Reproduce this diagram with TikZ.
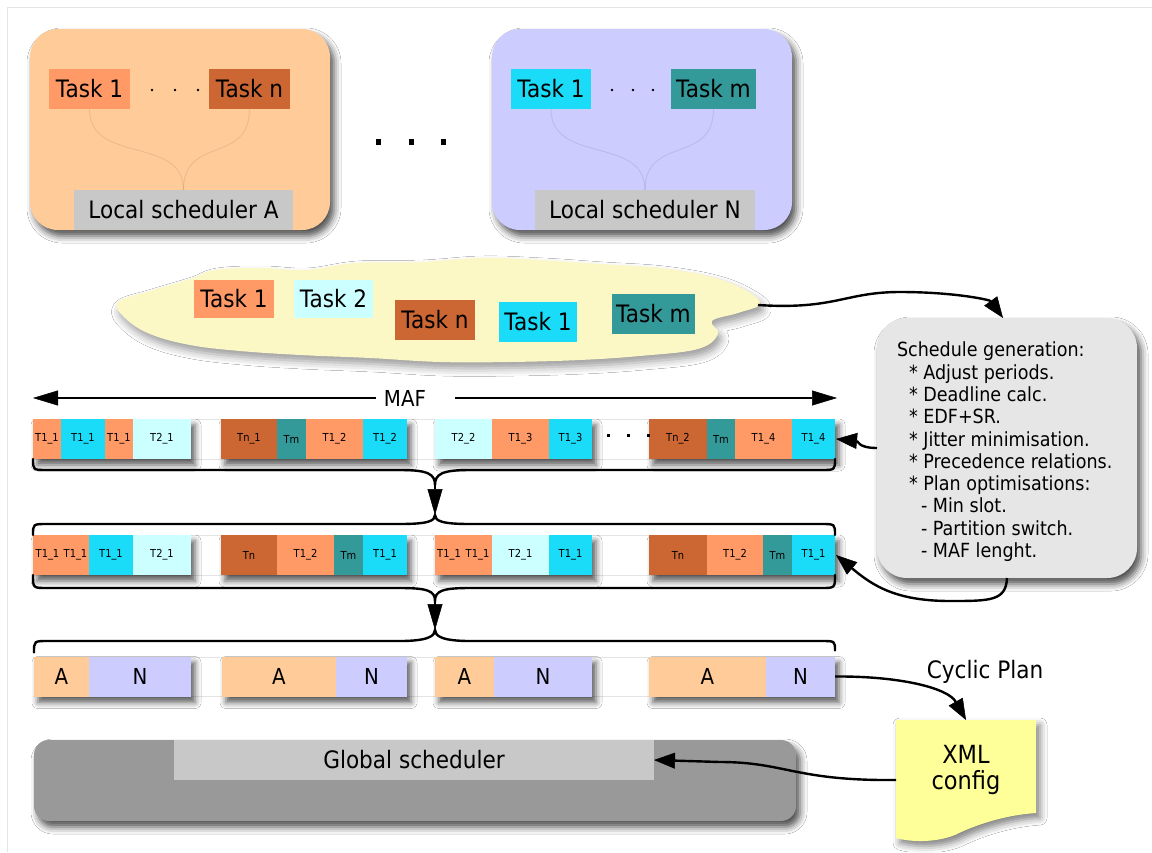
\documentclass[tikz,border=0pt]{standalone}
\usepackage{fontspec}
\setmainfont{DejaVu Sans}[FakeStretch=0.9]
\usetikzlibrary{arrows.meta,shadows.blur,calc}

\definecolor{peach}{HTML}{FFCC99}
\definecolor{salmon}{HTML}{FF9966}
\definecolor{rust}{HTML}{CC6633}
\definecolor{aqua}{HTML}{1ADCF8}
\definecolor{tealx}{HTML}{339999}
\definecolor{icecyan}{HTML}{CCFFFF}
\definecolor{lav}{HTML}{CCCCFF}
\definecolor{cream}{HTML}{FCF8C6}
\definecolor{panelgray}{HTML}{E6E6E6}
\definecolor{labgray}{HTML}{C8C8C8}
\definecolor{slate}{HTML}{999999}
\definecolor{note}{HTML}{FFFF99}
\definecolor{framegray}{HTML}{E4E4E4}

% one coloured slot of a schedule row: name, x1, x2, y centre, options, label
\newcommand\seg[6]{%
  \pgfmathsetmacro\segw{#3-#2}%
  \pgfmathsetmacro\segx{(#2+#3)/2}%
  \node[#5, minimum width=\segw pt] (#1) at (\segx,#4) {#6};}
% white backing block (with shadow) for a group of slots
\newcommand\grp[4]{%
  \pgfmathsetmacro\segw{#3-#2}%
  \pgfmathsetmacro\segx{(#2+#3)/2}%
  \node[grpblock, minimum width=\segw pt] (#1) at (\segx,#4) {};}

\begin{document}
\begin{tikzpicture}[x=1pt,y=-1pt,
  box/.style={rectangle, inner sep=0pt, outer sep=0pt, text=black},
  softshadow/.style={blur shadow={shadow xshift=4pt, shadow yshift=-6pt, shadow blur radius=7pt, shadow opacity=70}},
  panel/.style={box, rounded corners=28pt, softshadow},
  taskbox/.style={box, minimum height=40pt, font=\fontsize{24}{28}\selectfont},
  slot/.style={box, minimum height=40pt, font=\fontsize{11}{13}\selectfont},
  abslot/.style={box, minimum height=40pt, font=\fontsize{22}{26}\selectfont},
  grpblock/.style={box, minimum height=40pt, fill=white,
    blur shadow={shadow xshift=4pt, shadow yshift=-6pt, shadow blur radius=6pt, shadow opacity=65}},
  faint/.style={draw=black, opacity=0.08, line width=1pt},
  brace/.style={line width=2.4pt, line cap=round},
  conn/.style={line width=2.4pt, -{Triangle[length=21pt,width=16pt,fill=black,line width=0.5pt]}},
  darrow/.style={line width=2.4pt, -{Triangle[length=26pt,width=15pt,fill=black,line width=0.5pt]}},
  mafarrow/.style={line width=2.6pt, -{Triangle[length=25pt,width=15pt,fill=black,line width=0.5pt]}},
  bigtext/.style={font=\fontsize{24}{28}\selectfont}
]
\useasboundingbox (0,0) rectangle (1152,852);
\fill[white] (0,0) rectangle (1152,852);
\draw[framegray, line width=1pt] (7,852) -- (7,7) -- (1152,7);

% ---- local scheduler A ----
\node[panel, fill=peach, minimum width=300pt, minimum height=201pt] (boxA) at (180,129.5) {};
\node[taskbox, fill=salmon, minimum width=81pt] (a1) at (89.5,89) {Task 1};
\node[taskbox, fill=rust, minimum width=81pt] (an) at (249.5,89) {Task n};
\node[taskbox, fill=labgray, minimum width=219pt] (schA) at (183.5,210) {Local scheduler A};
\draw[faint] (a1.south) .. controls (89.5,165) and (183.5,135) .. (schA.north);
\draw[faint] (an.south) .. controls (249.5,165) and (183.5,135) .. (schA.north);
\foreach \x in {152,175,198} \fill (\x,90) circle (1.3);

% ---- gap dots between the local schedulers ----
\foreach \x in {378,411,443} \fill (\x-2.5,139) rectangle (\x+2.5,145);

% ---- local scheduler N ----
\node[panel, fill=lav, minimum width=300pt, minimum height=201pt] (boxN) at (642,129.5) {};
\node[taskbox, fill=aqua, minimum width=80pt] (b1) at (551,89) {Task 1};
\node[taskbox, fill=tealx, minimum width=85pt] (bm) at (713.5,89) {Task m};
\node[taskbox, fill=labgray, minimum width=220pt] (schN) at (645,210) {Local scheduler N};
\draw[faint] (b1.south) .. controls (551,165) and (645,135) .. (schN.north);
\draw[faint] (bm.south) .. controls (713.5,165) and (645,135) .. (schN.north);
\foreach \x in {612,633,653} \fill (\x,90) circle (1.3);

% ---- task cloud ----
\fill[cream, blur shadow={shadow xshift=3pt, shadow yshift=-6pt, shadow blur radius=8pt, shadow opacity=40}]
  plot[smooth cycle, tension=0.65] coordinates {
  (118,302) (150,291) (190,279) (215,270) (260,268) (305,270) (355,263) (420,262)
  (480,258) (540,260) (600,264) (660,268) (712,277) (745,290) (760,304) (738,313)
  (712,321) (718,334) (698,349) (640,356) (580,360) (510,362) (440,362) (370,358)
  (300,355) (240,351) (190,345) (150,334) (125,318)};
\coordinate (cloudtip) at (758,305);
\node[taskbox, fill=salmon, minimum width=80pt, minimum height=38pt] (c1t) at (234,299) {Task 1};
\node[taskbox, fill=icecyan, minimum width=79pt, minimum height=38pt] (c2t) at (333.5,299) {Task 2};
\node[taskbox, fill=rust, minimum width=80pt] (cnt) at (435,320) {Task n};
\node[taskbox, fill=aqua, minimum width=78pt] (c1b) at (538,322) {Task 1};
\node[taskbox, fill=tealx, minimum width=83pt] (cmt) at (653.5,314) {Task m};

% ---- schedule generation ----
\node[panel, rounded corners=30pt, fill=panelgray, minimum width=260pt, minimum height=260pt] (sched) at (1007,448) {};
\node[box, anchor=north west, align=left, font=\fontsize{19.5}{22.3}\selectfont] (sgtext) at (897,342) {%
Schedule generation:\\
\hspace*{12pt}* Adjust periods.\\
\hspace*{12pt}* Deadline calc.\\
\hspace*{12pt}* EDF+SR.\\
\hspace*{12pt}* Jitter minimisation.\\
\hspace*{12pt}* Precedence relations.\\
\hspace*{12pt}* Plan optimisations:\\
\hspace*{24pt}- Min slot.\\
\hspace*{24pt}- Partition switch.\\
\hspace*{24pt}- MAF lenght.};

% ---- MAF span ----
\node[box, font=\fontsize{22}{26}\selectfont] (maf) at (405,398) {MAF};
\coordinate (mafl) at (33,398);
\coordinate (mafr) at (837,398);
\draw[mafarrow] ([xshift=-8pt]maf.west) -- (mafl);
\draw[mafarrow] ([xshift=29pt]maf.east) -- (mafr);

% ---- row guide lines ----
\foreach \ya/\yb in {419/459, 535/575, 657/696}
  \draw[framegray, line width=0.8pt] (33,\ya) -- (835,\ya) (33,\yb) -- (835,\yb);

% ---- row 1 ----
\grp{r1g1}{33}{191}{439}\grp{r1g2}{221}{407}{439}\grp{r1g3}{435}{592}{439}\grp{r1g4}{649}{835}{439}
\seg{r1a}{33}{61}{439}{slot,fill=salmon}{T1\_1}
\seg{r1b}{61}{105}{439}{slot,fill=aqua}{T1\_1}
\seg{r1c}{105}{133}{439}{slot,fill=salmon}{T1\_1}
\seg{r1d}{133}{191}{439}{slot,fill=icecyan}{T2\_1}
\seg{r1e}{221}{277}{439}{slot,fill=rust}{Tn\_1}
\seg{r1f}{277}{306}{439}{slot,fill=tealx}{Tm}
\seg{r1g}{306}{363}{439}{slot,fill=salmon}{T1\_2}
\seg{r1h}{363}{407}{439}{slot,fill=aqua}{T1\_2}
\seg{r1i}{435}{492}{439}{slot,fill=icecyan}{T2\_2}
\seg{r1j}{492}{549}{439}{slot,fill=salmon}{T1\_3}
\seg{r1k}{549}{592}{439}{slot,fill=aqua}{T1\_3}
\seg{r1l}{649}{707}{439}{slot,fill=rust}{Tn\_2}
\seg{r1m}{707}{735}{439}{slot,fill=tealx}{Tm}
\seg{r1n}{735}{792}{439}{slot,fill=salmon}{T1\_4}
\seg{r1o}{792}{835}{439}{slot,fill=aqua}{T1\_4}
\foreach \x in {608,628,648} \fill (\x-1.5,433.5) rectangle (\x+1.5,436.5);

% ---- row 2 ----
\grp{r2g1}{33}{191}{555}\grp{r2g2}{221}{407}{555}\grp{r2g3}{435}{592}{555}\grp{r2g4}{649}{835}{555}
\seg{r2a}{33}{62}{555}{slot,fill=salmon}{T1\_1}
\seg{r2b}{62}{89}{555}{slot,fill=salmon}{T1\_1}
\seg{r2c}{89}{133}{555}{slot,fill=aqua}{T1\_1}
\seg{r2d}{133}{191}{555}{slot,fill=icecyan}{T2\_1}
\seg{r2e}{221}{277}{555}{slot,fill=rust}{Tn}
\seg{r2f}{277}{334}{555}{slot,fill=salmon}{T1\_2}
\seg{r2g}{334}{363}{555}{slot,fill=tealx}{Tm}
\seg{r2h}{363}{407}{555}{slot,fill=aqua}{T1\_1}
\seg{r2i}{435}{463}{555}{slot,fill=salmon}{T1\_1}
\seg{r2j}{463}{492}{555}{slot,fill=salmon}{T1\_1}
\seg{r2k}{492}{549}{555}{slot,fill=icecyan}{T2\_1}
\seg{r2l}{549}{592}{555}{slot,fill=aqua}{T1\_1}
\seg{r2m}{649}{707}{555}{slot,fill=rust}{Tn}
\seg{r2n}{707}{763}{555}{slot,fill=salmon}{T1\_2}
\seg{r2o}{763}{792}{555}{slot,fill=tealx}{Tm}
\seg{r2p}{792}{835}{555}{slot,fill=aqua}{T1\_1}

% ---- row 3 (cyclic plan) ----
\grp{r3g1}{34}{191}{676.5}\grp{r3g2}{222}{407}{676.5}\grp{r3g3}{435}{592}{676.5}\grp{r3g4}{649}{835}{676.5}
\seg{r3a}{34}{89}{676.5}{abslot,fill=peach}{A}
\seg{r3b}{89}{191}{676.5}{abslot,fill=lav}{N}
\seg{r3c}{222}{336}{676.5}{abslot,fill=peach}{A}
\seg{r3d}{336}{407}{676.5}{abslot,fill=lav}{N}
\seg{r3e}{435}{494}{676.5}{abslot,fill=peach}{A}
\seg{r3f}{494}{592}{676.5}{abslot,fill=lav}{N}
\seg{r3g}{649}{766}{676.5}{abslot,fill=peach}{A}
\seg{r3h}{766}{835}{676.5}{abslot,fill=lav}{N}

% ---- braces and merge arrows between rows ----
\coordinate (k1) at (435,485);
\coordinate (k2) at (435,515);
\coordinate (k3) at (435,601);
\coordinate (k4) at (435,630);
\draw[brace] (r1g1.south west) .. controls (33,470) .. (47,470) -- (400,470)
  .. controls (428,470) and (435,474) .. (k1) .. controls (435,474) and (442,470) .. (470,470)
  -- (821,470) .. controls (835,470) .. (r1g4.south east);
\draw[darrow] (k1) -- (k2);
\draw[brace] (r2g1.north west) .. controls (33,524) .. (47,524) -- (400,524)
  .. controls (428,524) and (435,521) .. (k2) .. controls (435,521) and (442,524) .. (470,524)
  -- (821,524) .. controls (835,524) .. (r2g4.north east);
\draw[brace] (r2g1.south west) .. controls (33,588) .. (47,588) -- (400,588)
  .. controls (428,588) and (435,591) .. (k3) .. controls (435,591) and (442,588) .. (470,588)
  -- (821,588) .. controls (835,588) .. (r2g4.south east);
\draw[darrow] (k3) -- (k4);
\draw[brace] ([yshift=4pt]r3g1.north west) .. controls (34,641) .. (48,641) -- (400,641)
  .. controls (428,641) and (435,636) .. (k4) .. controls (435,636) and (442,641) .. (470,641)
  -- (821,641) .. controls (835,641) .. ([yshift=6pt]r3g4.north east);

% ---- connectors around the schedule generator ----
\draw[conn] (cloudtip) .. controls (835,310) and (845,292) .. (900,292)
  .. controls (955,292) and (990,300) .. ([xshift=-4pt]sched.north);
\draw[conn] (sched.west) .. controls (858,448) and (858,441) .. ([xshift=1pt]r1g4.east);
\draw[conn] (sched.south) .. controls (1006,601) and (990,601) .. (950,601)
  .. controls (895,601) and (872,585) .. ([xshift=1pt]r2g4.east);

% ---- XML config and global scheduler ----
\node[bigtext] (cyc) at (985,672) {Cyclic Plan};
\fill[note, blur shadow={shadow xshift=4pt, shadow yshift=-5pt, shadow blur radius=7pt, shadow opacity=50}]
  (896,720) -- (1036,720) -- (1036,813) .. controls (1005,815) and (975,825) .. (955,835)
  .. controls (935,843) and (910,842) .. (896,838) -- cycle;
\node[box, align=center, font=\fontsize{25}{26}\selectfont, minimum width=140pt, minimum height=100pt] (xml) at (966,770) {XML\\config};
\draw[conn] (r3g4.east) .. controls (900,676) and (948,688) .. (xml.north);

\node[box, rounded corners=15pt, fill=slate, minimum width=762pt, minimum height=81pt, softshadow] (gbox) at (415,780.5) {};
\node[box, fill=labgray, minimum width=480pt, minimum height=40pt, bigtext] (gsched) at (414,760) {Global scheduler};
\draw[conn] ([yshift=-10pt]xml.west) .. controls (795,781) and (785,762) .. (720,762) -- (gsched.east);
\end{tikzpicture}
\end{document}
